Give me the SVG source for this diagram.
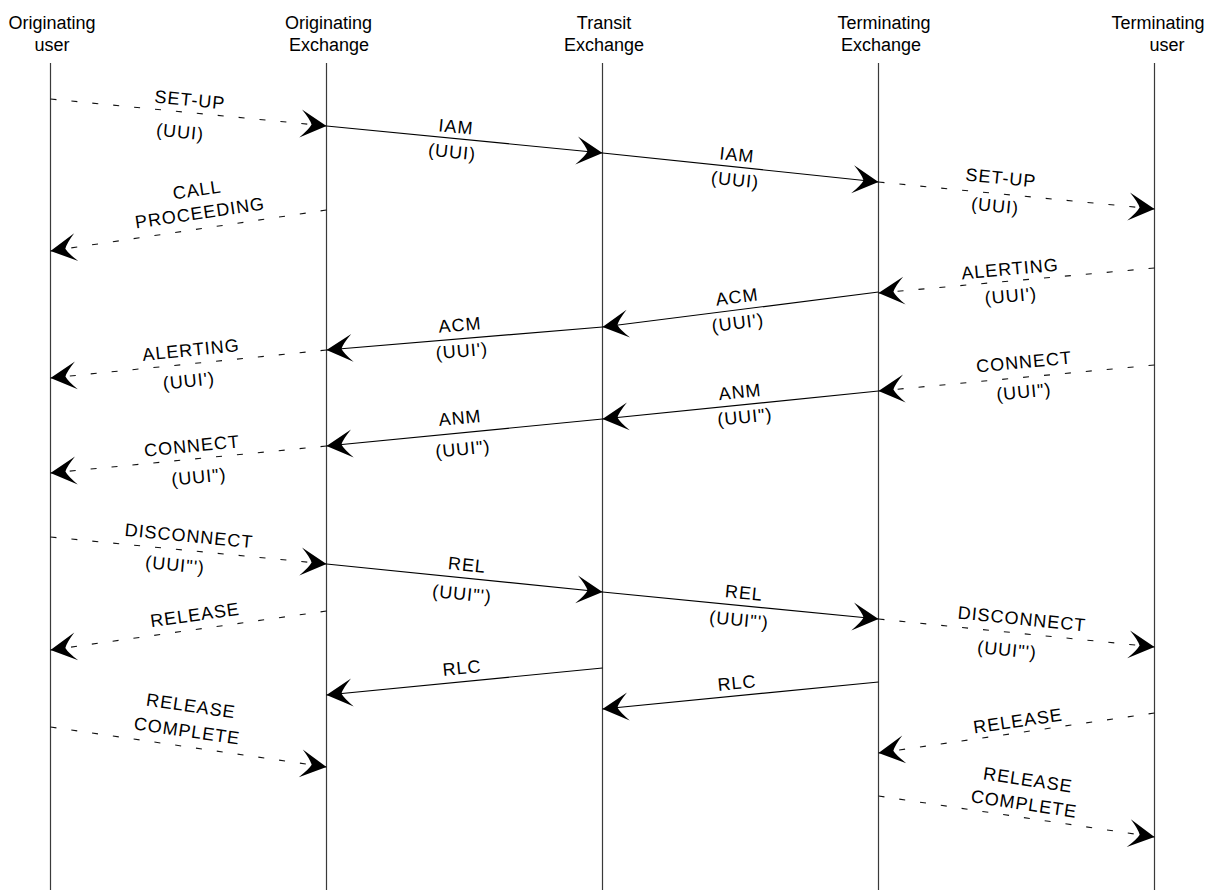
<svg xmlns="http://www.w3.org/2000/svg" width="1215" height="890" viewBox="0 0 1215 890">
<defs>
<marker id="arr" viewBox="-30 -16 32 32" refX="0" refY="0" markerWidth="32" markerHeight="32" markerUnits="userSpaceOnUse" orient="auto" overflow="visible">
<path d="M0,0 L-26,-14 Q-17,-5 -15,0 Q-17,5 -26,14 Z" fill="#000" stroke="none"/>
</marker>
<style>
.hdr{font-family:"Liberation Sans",Arial,Helvetica,sans-serif;font-size:18px;fill:#000;text-anchor:middle}
.lbl{font-family:"Liberation Sans",Arial,Helvetica,sans-serif;font-size:18px;letter-spacing:1px;fill:#000;text-anchor:middle}
.life{stroke:#3a3a3a;stroke-width:1.2;fill:none}
.sol{stroke:#000;stroke-width:1.2;fill:none;marker-end:url(#arr)}
.dsh{stroke:#111;stroke-width:1.1;fill:none;stroke-dasharray:6 15;marker-end:url(#arr)}
</style>
</defs>
<rect width="1215" height="890" fill="#fff"/>

<g id="orig-user">
<text class="hdr" x="52" y="29">Originating</text>
<text class="hdr" x="52" y="51">user</text>
<line class="life" x1="50.5" y1="63" x2="50.5" y2="890"/>
</g>
<g id="orig-exchange">
<text class="hdr" x="328.5" y="29">Originating</text>
<text class="hdr" x="329" y="51">Exchange</text>
<line class="life" x1="326.5" y1="63" x2="326.5" y2="890"/>
</g>
<g id="transit-exchange">
<text class="hdr" x="604" y="29">Transit</text>
<text class="hdr" x="604" y="51">Exchange</text>
<line class="life" x1="602.5" y1="63" x2="602.5" y2="890"/>
</g>
<g id="term-exchange">
<text class="hdr" x="884" y="29">Terminating</text>
<text class="hdr" x="881" y="51">Exchange</text>
<line class="life" x1="878.5" y1="63" x2="878.5" y2="890"/>
</g>
<g id="term-user">
<text class="hdr" x="1158" y="29">Terminating</text>
<text class="hdr" x="1167" y="51">user</text>
<line class="life" x1="1154.5" y1="63" x2="1154.5" y2="890"/>
</g>

<g id="connectors">
<!-- 1 SET-UP -->
<line class="dsh" x1="50.5" y1="99" x2="326.5" y2="126"/>
<text class="lbl" x="190" y="106" transform="rotate(5.6 190 100)">SET-UP</text>
<text class="lbl" x="180" y="138" transform="rotate(5.6 180 133)">(UUI)</text>
<!-- 2 IAM -->
<line class="sol" x1="326.5" y1="126" x2="602.5" y2="153"/>
<text class="lbl" x="456" y="133" transform="rotate(5.6 456 127)">IAM</text>
<text class="lbl" x="452" y="158" transform="rotate(5.6 452 153)">(UUI)</text>
<!-- 3 IAM -->
<line class="sol" x1="602.5" y1="153" x2="878.5" y2="182"/>
<text class="lbl" x="737" y="161" transform="rotate(6 737 155)">IAM</text>
<text class="lbl" x="735" y="186" transform="rotate(6 735 181)">(UUI)</text>
<!-- 4 SET-UP -->
<line class="dsh" x1="878.5" y1="182" x2="1154.5" y2="209"/>
<text class="lbl" x="1001" y="184" transform="rotate(5.6 1001 178)">SET-UP</text>
<text class="lbl" x="995" y="212" transform="rotate(5.6 995 207)">(UUI)</text>
<!-- 5 CALL PROCEEDING -->
<line class="dsh" x1="326.5" y1="210" x2="50.5" y2="251"/>
<text class="lbl" x="197" y="196" transform="rotate(-8.45 197 190)">CALL</text>
<text class="lbl" x="200" y="219" transform="rotate(-8.45 200 213)">PROCEEDING</text>
<!-- 6 ALERTING -->
<line class="dsh" x1="1154.5" y1="268" x2="878.5" y2="293"/>
<text class="lbl" x="1010" y="275" transform="rotate(-5.2 1010 269)">ALERTING</text>
<text class="lbl" x="1011" y="302" transform="rotate(-5.2 1011 297)">(UUI')</text>
<!-- 7 ACM -->
<line class="sol" x1="878.5" y1="292" x2="602.5" y2="327"/>
<text class="lbl" x="737" y="303" transform="rotate(-7.2 737 297)">ACM</text>
<text class="lbl" x="738" y="329" transform="rotate(-7.2 738 324)">(UUI')</text>
<!-- 8 ACM -->
<line class="sol" x1="602.5" y1="327" x2="326.5" y2="350"/>
<text class="lbl" x="460" y="331" transform="rotate(-4.8 460 325)">ACM</text>
<text class="lbl" x="462" y="357" transform="rotate(-4.8 462 352)">(UUI')</text>
<!-- 9 ALERTING -->
<line class="dsh" x1="326.5" y1="350" x2="50.5" y2="378"/>
<text class="lbl" x="191" y="356" transform="rotate(-5.8 191 350)">ALERTING</text>
<text class="lbl" x="189" y="387" transform="rotate(-5.8 189 382)">(UUI')</text>
<!-- 10 CONNECT -->
<line class="dsh" x1="1154.5" y1="365" x2="878.5" y2="391"/>
<text class="lbl" x="1024" y="368" transform="rotate(-5.4 1024 362)">CONNECT</text>
<text class="lbl" x="1024" y="398" transform="rotate(-5.4 1024 393)">(UUI")</text>
<!-- 11 ANM -->
<line class="sol" x1="878.5" y1="391" x2="602.5" y2="419"/>
<text class="lbl" x="740" y="398" transform="rotate(-5.8 740 392)">ANM</text>
<text class="lbl" x="745" y="423" transform="rotate(-5.8 745 418)">(UUI")</text>
<!-- 12 ANM -->
<line class="sol" x1="602.5" y1="419" x2="326.5" y2="446"/>
<text class="lbl" x="460" y="424" transform="rotate(-5.6 460 418)">ANM</text>
<text class="lbl" x="463" y="455" transform="rotate(-5.6 463 450)">(UUI")</text>
<!-- 13 CONNECT -->
<line class="dsh" x1="326.5" y1="446" x2="50.5" y2="473"/>
<text class="lbl" x="192" y="452" transform="rotate(-5.6 192 446)">CONNECT</text>
<text class="lbl" x="199" y="483" transform="rotate(-5.6 199 478)">(UUI")</text>
<!-- 14 DISCONNECT -->
<line class="dsh" x1="50.5" y1="537" x2="326.5" y2="564"/>
<text class="lbl" x="189" y="542" transform="rotate(5.6 189 536)">DISCONNECT</text>
<text class="lbl" x="175" y="571" transform="rotate(5.6 175 566)">(UUI"')</text>
<!-- 15 REL -->
<line class="sol" x1="326.5" y1="564" x2="602.5" y2="592"/>
<text class="lbl" x="467" y="571" transform="rotate(5.8 467 565)">REL</text>
<text class="lbl" x="462" y="600" transform="rotate(5.8 462 595)">(UUI"')</text>
<!-- 16 REL -->
<line class="sol" x1="602.5" y1="592" x2="878.5" y2="619"/>
<text class="lbl" x="744" y="599" transform="rotate(5.6 744 593)">REL</text>
<text class="lbl" x="739" y="626" transform="rotate(5.6 739 621)">(UUI"')</text>
<!-- 17 DISCONNECT -->
<line class="dsh" x1="878.5" y1="619" x2="1154.5" y2="647"/>
<text class="lbl" x="1022" y="625" transform="rotate(5.8 1022 619)">DISCONNECT</text>
<text class="lbl" x="1007" y="656" transform="rotate(5.8 1007 651)">(UUI"')</text>
<!-- 18 RELEASE -->
<line class="dsh" x1="326.5" y1="611" x2="50.5" y2="650"/>
<text class="lbl" x="195" y="621" transform="rotate(-8 195 615)">RELEASE</text>
<!-- 19 RLC -->
<line class="sol" x1="602.5" y1="668" x2="326.5" y2="695"/>
<text class="lbl" x="462" y="674" transform="rotate(-5.6 462 668)">RLC</text>
<!-- 20 RLC -->
<line class="sol" x1="878.5" y1="682" x2="602.5" y2="709"/>
<text class="lbl" x="737" y="689" transform="rotate(-5.6 737 683)">RLC</text>
<!-- 21 RELEASE COMPLETE -->
<line class="dsh" x1="50.5" y1="727" x2="326.5" y2="767"/>
<text class="lbl" x="191" y="712" transform="rotate(8.25 191 706)">RELEASE</text>
<text class="lbl" x="187" y="737" transform="rotate(8.25 187 731)">COMPLETE</text>
<!-- 22 RELEASE -->
<line class="dsh" x1="1154.5" y1="713" x2="878.5" y2="753"/>
<text class="lbl" x="1018" y="727" transform="rotate(-8.25 1018 721)">RELEASE</text>
<!-- 23 RELEASE COMPLETE -->
<line class="dsh" x1="878.5" y1="796" x2="1154.5" y2="837"/>
<text class="lbl" x="1028" y="786" transform="rotate(8.45 1028 780)">RELEASE</text>
<text class="lbl" x="1024" y="810" transform="rotate(8.45 1024 804)">COMPLETE</text>
</g>
</svg>
